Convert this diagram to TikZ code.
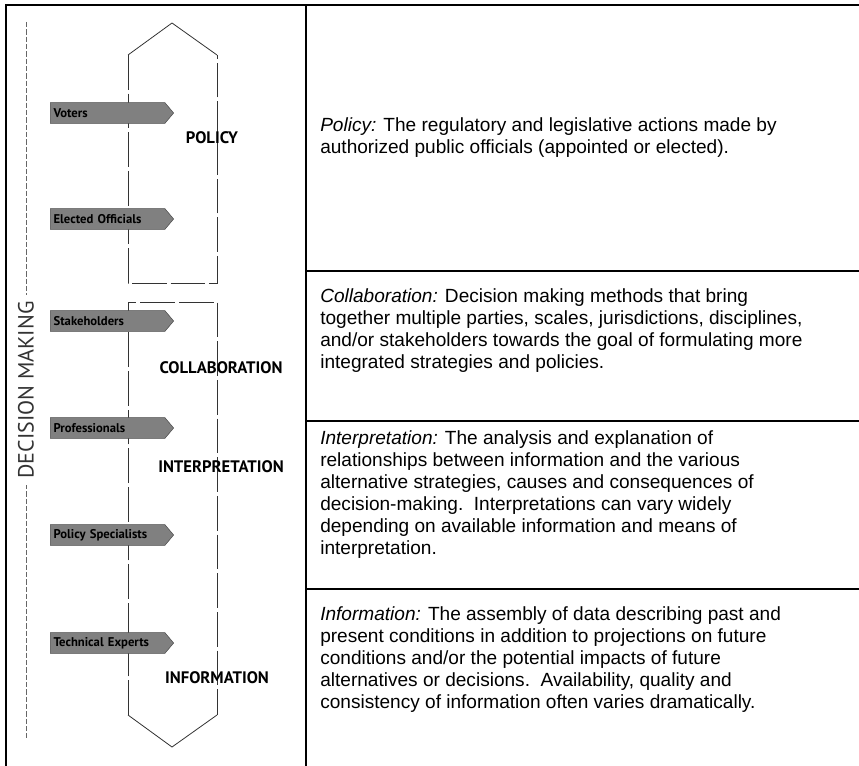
\documentclass[tikz,border=0pt]{standalone}
\usepackage{fontspec}
\setmainfont{Liberation Sans}
\newfontfamily\labelfont{PT Sans}
\usepackage{tikz}
\usetikzlibrary{shapes.symbols}

\begin{document}
\begin{tikzpicture}[x=0.75pt, y=-0.75pt,
  tag/.style = {signal, signal to=east, signal pointer angle=100, draw=black!70, fill=black!50, text=black, font=\labelfont\bfseries\fontsize{9.5}{10}\selectfont, minimum height=15.5pt, inner xsep=2.5pt, inner ysep=2pt, text width=81pt, align=left, anchor=west},
  level/.style = {font=\labelfont\bfseries\fontsize{12.5}{14}\selectfont},
  desc/.style = {anchor=north west, align=left, inner sep=0pt, font=\fontsize{14.3}{16.5}\selectfont},
  frame/.style = {line width=1.3pt},
  rule/.style = {line width=0.8pt},
  edge/.style = {draw=black!80, line width=0.6pt},
  flow/.style = {edge, dash pattern=on 26pt off 3pt},
  guide/.style = {draw=black!60, line width=0.6pt, dash pattern=on 4pt off 1.5pt}]
  \useasboundingbox (0,0) rectangle (859,766);
  \draw[frame] (859,5) -- (6,5) -- (6,766);
  \draw[rule] (306,5) -- (306,766);
  \draw[rule] (306,271) -- (859,271);
  \draw[rule] (306,421) -- (859,421);
  \draw[rule] (306,589) -- (859,589);

  \draw[guide] (26,22) -- (26,738);
  \node[rotate=90, fill=white, inner sep=5pt, text=black!80, font=\labelfont\fontsize{16.5}{18}\selectfont] (dm) at (26,390) {DECISION MAKING};

  \draw[edge] (128,55) -- (172,23) -- (217,55);
  \draw[flow] (128,55) -- (128,283) -- (217,283) -- (217,55);
  \draw[flow] (128,715) -- (128,302) -- (217,302) -- (217,715);
  \draw[edge] (128,715) -- (172,747) -- (217,715);

  \node[tag] (voters) at (50,113) {Voters};
  \node[tag] (elected) at (50,219) {Elected Officials};
  \node[tag] (stake) at (50,321) {Stakeholders};
  \node[tag] (prof) at (50,428) {Professionals};
  \node[tag] (spec) at (50,535) {Policy Specialists};
  \node[tag] (tech) at (50,643) {Technical Experts};

  \node[level] (policy) at (212,138) {POLICY};
  \node[level] (collab) at (221,368) {COLLABORATION};
  \node[level] (interp) at (221,467) {INTERPRETATION};
  \node[level] (info) at (217,678) {INFORMATION};

  \node[desc] (poltext) at (320,117) {\textit{Policy:} The regulatory and legislative actions made by\\authorized public officials (appointed or elected).};
  \node[desc] (coltext) at (320,288) {\textit{Collaboration:} Decision making methods that bring\\together multiple parties, scales, jurisdictions, disciplines,\\and/or stakeholders towards the goal of formulating more\\integrated strategies and policies.};
  \node[desc] (inttext) at (320,430) {\textit{Interpretation:} The analysis and explanation of\\relationships between information and the various\\alternative strategies, causes and consequences of\\decision-making.\ \ Interpretations can vary widely\\depending on available information and means of\\interpretation.};
  \node[desc] (inftext) at (320,606) {\textit{Information:} The assembly of data describing past and\\present conditions in addition to projections on future\\conditions and/or the potential impacts of future\\alternatives or decisions.\ \ Availability, quality and\\consistency of information often varies dramatically.};
\end{tikzpicture}
\end{document}
